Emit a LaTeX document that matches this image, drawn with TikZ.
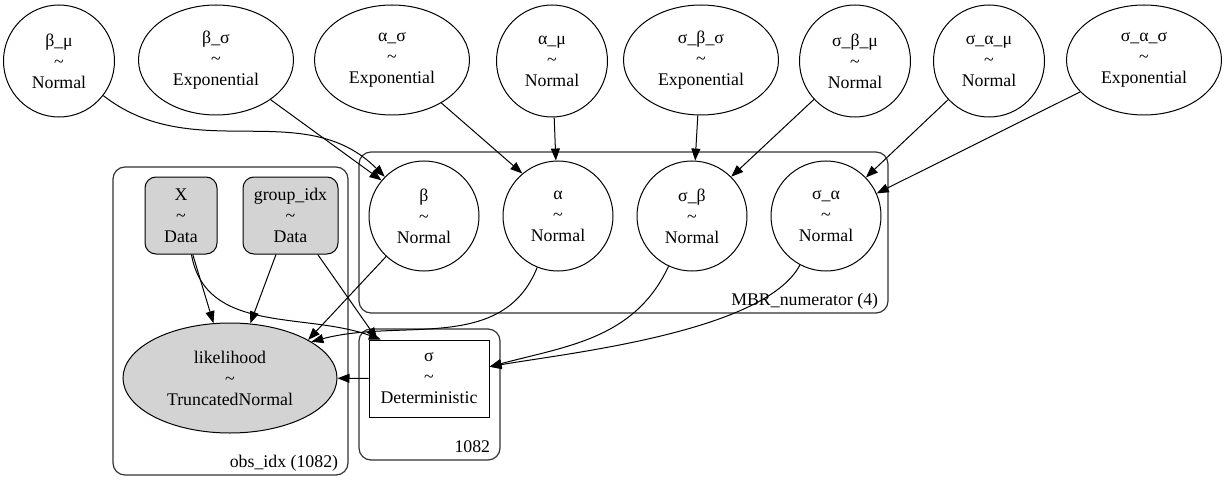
\documentclass[tikz,border=0pt]{standalone}
\usepackage{fontspec}
\setmainfont{Liberation Serif}
\usetikzlibrary{positioning, arrows.meta, shapes}
\definecolor{graphgray}{HTML}{D3D3D3}
\tikzset{>={Triangle[length=12pt, width=9pt]}, node distance=23pt,
    every node/.style={font=\fontsize{17.8}{21}\selectfont, align=center},
    free/.style={ellipse, draw, fill=white, inner sep=0pt},
    normal/.style={free, minimum width=111pt, minimum height=112pt},
    expo/.style={free, minimum width=155pt, minimum height=110pt},
    latent/.style={circle, draw, fill=white, minimum size=110pt, inner sep=0pt},
    data/.style={rectangle, rounded corners=11pt, draw, fill=graphgray, minimum height=77pt, inner sep=0pt},
    observed/.style={ellipse, draw, fill=graphgray, minimum width=214pt, minimum height=110pt, inner sep=0pt},
    deterministic/.style={rectangle, draw, fill=white, minimum width=120pt, minimum height=77pt, inner sep=0pt},
    plate/.style={rectangle, rounded corners=12pt, draw=black!80, line width=1.2pt, inner sep=0pt},
    platelabel/.style={anchor=base east, inner sep=0pt, xshift=-10pt, yshift=8pt}}
\newcommand{\rv}[2]{#1\\\textasciitilde\\#2}

\begin{document}
\begin{tikzpicture}[x=1pt, y=1pt, line width=1pt]
        \useasboundingbox (0,0) rectangle (1226,-492);
        \node[plate, minimum width=529pt, minimum height=161pt] (mbrplate) at (623.5,-232.5) {};
        \node[plate, minimum width=235pt, minimum height=308pt] (obsplate) at (230.5,-321) {};
        \node[plate, minimum width=141pt, minimum height=131pt] (sigplate) at (429.5,-394.5) {};
        \node[platelabel] (mbrlabel) at (mbrplate.south east) {MBR\_numerator (4)};
        \node[platelabel] (obslabel) at (obsplate.south east) {obs\_idx (1082)};
        \node[platelabel] (siglabel) at (sigplate.south east) {1082};

        \node[normal] (bmu) at (59,-61) {\rv{β\_μ}{Normal}};
        \node[expo] (bsig) at (216,-60) {\rv{β\_σ}{Exponential}};
        \node[expo] (asig) at (392,-60) {\rv{α\_σ}{Exponential}};
        \node[normal] (amu) at (552,-61) {\rv{α\_μ}{Normal}};
        \node[expo] (sbsig) at (701,-60) {\rv{σ\_β\_σ}{Exponential}};
        \node[normal] (sbmu) at (855,-61) {\rv{σ\_β\_μ}{Normal}};
        \node[normal] (samu) at (989,-61) {\rv{σ\_α\_μ}{Normal}};
        \node[expo] (sasig) at (1144,-60) {\rv{σ\_α\_σ}{Exponential}};

        \node[latent] (beta) at (424,-216) {\rv{β}{Normal}};
        \node[latent, right=of beta] (alpha) {\rv{α}{Normal}};
        \node[latent, right=of alpha] (sigbeta) {\rv{σ\_β}{Normal}};
        \node[latent, right=of sigbeta] (sigalpha) {\rv{σ\_α}{Normal}};

        \node[data, minimum width=72pt] (X) at (181,-215.5) {\rv{X}{Data}};
        \node[data, minimum width=95pt, right=25pt of X] (gidx) {\rv{group\_idx}{Data}};
        \node[observed] (lik) at (230,-378) {\rv{likelihood}{TruncatedNormal}};
        \node[deterministic] (sigma) at (429,-378.5) {\rv{σ}{Deterministic}};

        \path[->] (bmu) edge[out=-38, in=135] (beta)
        (bsig) edge (beta.140)
        (asig) edge (alpha.130)
        (amu) edge (alpha)
        (sbsig) edge (sigbeta)
        (sbmu) edge (sigbeta.45)
        (samu) edge (sigalpha.44)
        (sasig) edge (sigalpha.24)
        (X) edge (lik)
        (X.-75) edge[out=-80, in=160] (sigma.141)
        (gidx) edge (lik)
        (gidx) edge (sigma.143)
        (beta) edge (lik.26)
        (alpha) edge[out=-112, in=15] (lik.24)
        (sigbeta) edge[out=-115, in=15] (sigma.11)
        (sigalpha) edge[out=-118, in=10, looseness=0.6] (sigma.11)
        (sigma) edge (lik);
    \end{tikzpicture}
\end{document}
